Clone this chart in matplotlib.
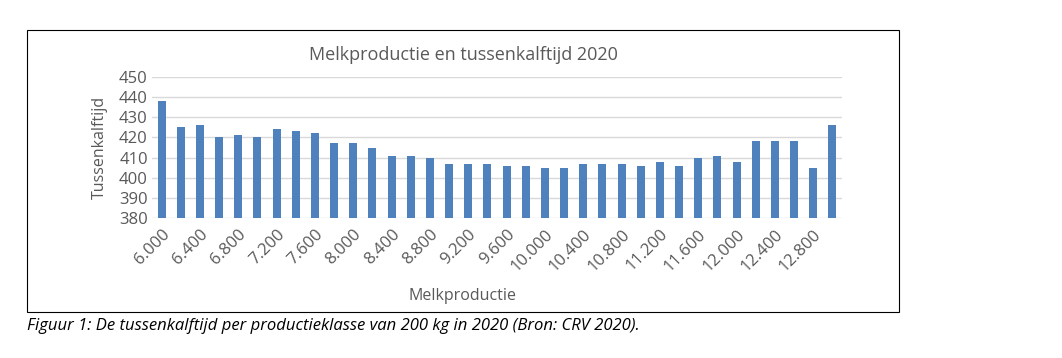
import matplotlib.pyplot as plt
from matplotlib.patches import Rectangle

# Melkproductie klassen (kg) en tussenkalftijd (dagen)
klassen = list(range(6000, 13001, 200))
tussenkalftijd = [438, 425, 426, 420, 421, 420, 424, 423, 422, 417,
                  417, 415, 411, 411, 410, 407, 407, 407, 406, 406,
                  405, 405, 407, 407, 407, 406, 408, 406, 410, 411,
                  408, 418, 418, 418, 405, 426]
labels = [f"{k // 1000}.{k % 1000:03d}" for k in klassen]

W, H = 1062, 358
text_col = '#595959'
plt.rcParams['font.family'] = ['Open Sans', 'DejaVu Sans']

fig = plt.figure(figsize=(W / 100, H / 100), dpi=100)
ax = fig.add_axes([152 / W, 1 - 218 / H, (842 - 152) / W, (218 - 77) / H])

x = list(range(len(klassen)))
ax.bar(x, tussenkalftijd, width=0.42, color='#4F81BD', zorder=3)
ax.set_xlim(-0.5, len(klassen) - 0.5)
ax.set_ylim(380, 450)
ax.set_yticks(range(380, 451, 10))
ax.set_xticks(x[::2])
ax.set_xticklabels(labels[::2], rotation=45, ha='right', rotation_mode='anchor')
ax.tick_params(axis='y', length=0, labelsize=12, colors=text_col, pad=3)
ax.tick_params(axis='x', length=0, labelsize=12, colors=text_col, pad=6)
ax.grid(axis='y', color='#D9D9D9', linewidth=1, zorder=0)
for s in ax.spines.values():
    s.set_visible(False)

ax.set_ylabel('Tussenkalftijd', fontsize=11.5, color=text_col, labelpad=8)
fig.text(463 / W, 1 - 55 / H, 'Melkproductie en tussenkalftijd 2020',
         ha='center', va='center', fontsize=13, color=text_col)
fig.text(463 / W, 1 - 296 / H, 'Melkproductie',
         ha='center', va='center', fontsize=11.5, color=text_col)

# kader om de grafiek
fig.add_artist(Rectangle((27 / W, 1 - 312 / H), (899 - 27) / W, (312 - 30) / H,
                         transform=fig.transFigure, fill=False,
                         edgecolor='black', linewidth=0.8))
fig.text(27 / W, 1 - 326 / H,
         'Figuur 1: De tussenkalftijd per productieklasse van 200 kg in 2020 (Bron: CRV 2020).',
         ha='left', va='center', fontsize=12, style='italic', color='black')

fig.savefig('out.png', dpi=100)
